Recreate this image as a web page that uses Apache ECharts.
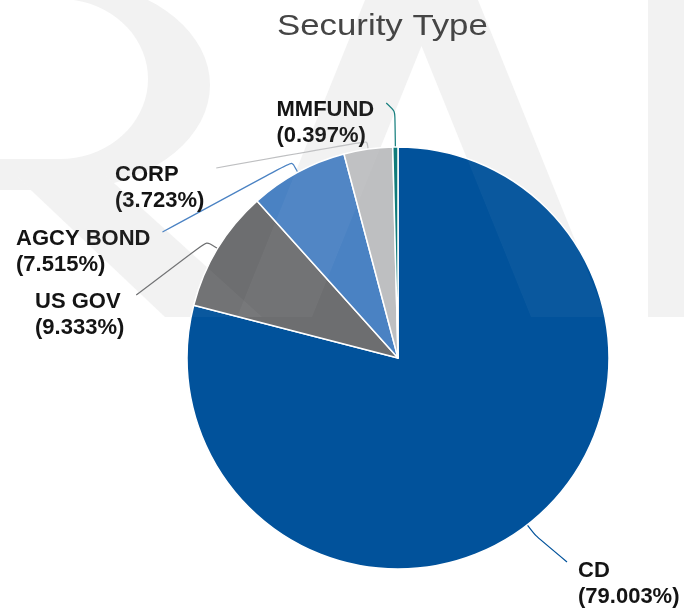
<!DOCTYPE html>
<html>
<head>
<meta charset="utf-8">
<script src="https://cdn.jsdelivr.net/npm/echarts@6/dist/echarts.min.js"></script>
<style>
html,body{margin:0;padding:0;background:#ffffff;}
#chart{width:684px;height:613px;}
</style>
</head>
<body>
<div id="chart"></div>
<script>
// ---- data ----
const chartTitle = 'Security Type';
const categories = ['CD', 'US GOV', 'AGCY BOND', 'CORP', 'MMFUND'];
const shares = [79.003, 9.333, 7.515, 3.723, 0.397];
const sliceColors = ['#01529b', '#6d6e70', '#4a82c3', '#bebfc1', '#0f7b7a'];

// ---- label placement (layout only) ----
const labelPlacement = [
  { x: 578, y: 558, elbow: 14, side: 'left' },
  { x: 35, y: 289, elbow: 13, side: 'right' },
  { x: 16, y: 226, elbow: 12, side: 'right' },
  { x: 115, y: 162, elbow: 8, side: 'right' },
  { x: 276.5, y: 97, elbow: 36, side: 'right' }
];

// ---- faint background watermark shapes (decoration only) ----
const wm = '#f2f2f2';
function bowlPoints() {
  const pts = [];
  for (let a = -90; a <= 90; a += 5) {
    const r = a * Math.PI / 180;
    pts.push([60 + 150 * Math.cos(r), 85 + 105 * Math.sin(r)]);
  }
  pts.push([0, 190]);
  pts.push([0, 159]);
  for (let a = 90; a >= -90; a -= 5) {
    const r = a * Math.PI / 180;
    pts.push([60 + 88 * Math.cos(r), 79 + 80 * Math.sin(r)]);
  }
  pts.push([0, -1]);
  pts.push([0, -20]);
  return pts;
}
const legPoints = [[15,175],[105,175],[262,317],[165,317]];
const aPoints = [[365,0],[478,0],[606,317],[531,317],[421.5,46],[312,317],[237,317]];
function wmShapes(fill, opacity, z) {
  return [
    { type: 'polygon', z: z, silent: true, shape: { points: bowlPoints() }, style: { fill: fill, opacity: opacity } },
    { type: 'polygon', z: z, silent: true, shape: { points: legPoints }, style: { fill: fill, opacity: opacity } },
    { type: 'polygon', z: z, silent: true, shape: { points: aPoints }, style: { fill: fill, opacity: opacity } },
    { type: 'rect', z: z, silent: true, shape: { x: 648, y: 0, width: 36, height: 317 }, style: { fill: fill, opacity: opacity } }
  ];
}

const chart = echarts.init(document.getElementById('chart'), null, { renderer: 'canvas' });

const option = {
  backgroundColor: '#ffffff',
  animation: false,
  graphic: wmShapes(wm, 1, 0).concat(wmShapes('#ffffff', 0.04, 5)).concat([
    { type: 'text', z: 10, x: 277, y: 12, scaleX: 1.16,
      style: { text: chartTitle, fill: '#454545',
        font: 'normal 30px "Liberation Sans", Arial, sans-serif',
        textAlign: 'left', textVerticalAlign: 'top' } }
  ]),
  series: [{
    type: 'pie',
    center: [398, 358],
    radius: 211,
    startAngle: 90,
    clockwise: true,
    avoidLabelOverlap: false,
    itemStyle: { borderColor: '#ffffff', borderWidth: 1.5 },
    label: {
      show: true,
      position: 'outside',
      overflow: 'none',
      color: '#141414',
      fontFamily: '"Liberation Sans", Arial, sans-serif',
      fontWeight: 'bold',
      fontSize: 22,
      lineHeight: 26,
      align: 'left',
      formatter: function (p) { return p.name + '\n(' + p.value.toFixed(3) + '%)'; }
    },
    labelLine: { show: true, length: 15, length2: 10, smooth: 0.2, lineStyle: { width: 1.2 } },
    labelLayout: function (p) {
      const pl = labelPlacement[p.dataIndex];
      const w = p.labelRect.width;
      const pts = p.labelLinePoints;
      if (!pts) { return { x: pl.x, y: pl.y, align: 'left', verticalAlign: 'top' }; }
      const p0 = pts[0], p1 = pts[1];
      let dx = p1[0] - p0[0], dy = p1[1] - p0[1];
      const d = Math.hypot(dx, dy) || 1; dx /= d; dy /= d;
      const elbow = [p0[0] + dx * pl.elbow, p0[1] + dy * pl.elbow];
      const end = pl.side === 'right' ? [pl.x + w + 12, pl.y + 6] : [pl.x - 11, pl.y + 4];
      return { x: pl.x, y: pl.y, align: 'left', verticalAlign: 'top', labelLinePoints: [p0, elbow, end] };
    },
    data: categories.map(function (c, i) {
      return { name: c, value: shares[i], itemStyle: { color: sliceColors[i] } };
    })
  }]
};
chart.setOption(option);
</script>
</body>
</html>
